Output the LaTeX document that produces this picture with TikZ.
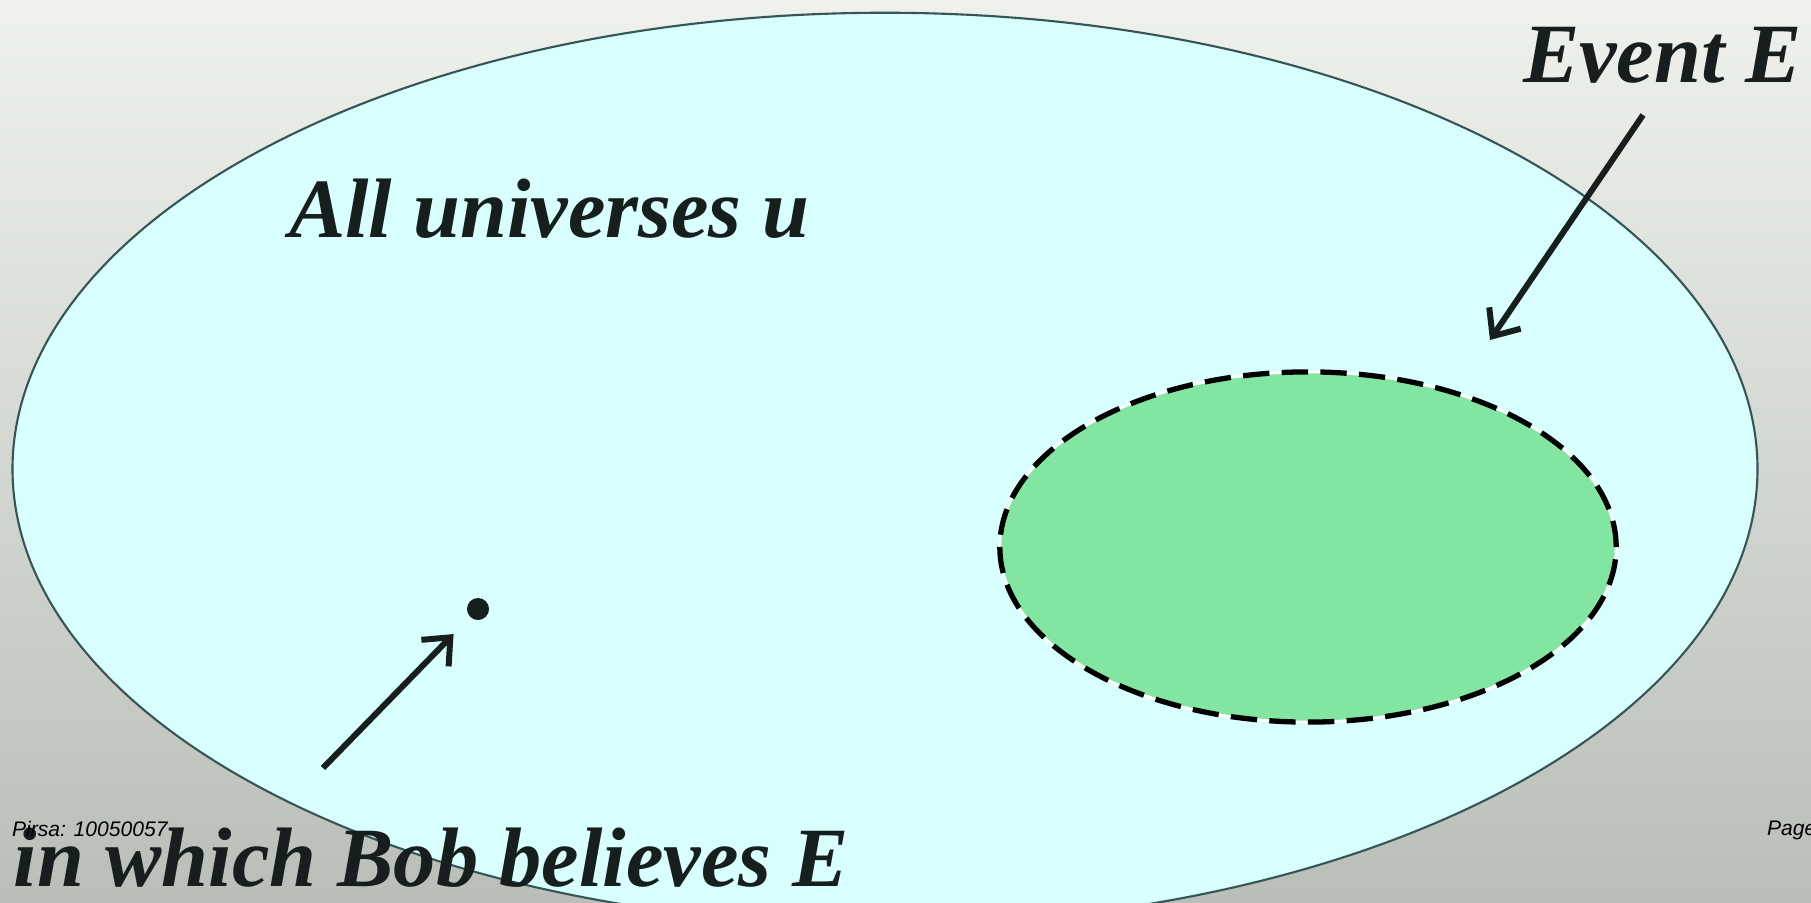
\documentclass[tikz,border=0pt]{standalone}
\usepackage{fontspec}
\setmainfont{Liberation Serif}
\newfontfamily\stampfont{Liberation Sans}
\definecolor{PaperTop}{RGB}{238, 241, 236}
\definecolor{PaperBottom}{RGB}{186, 190, 184}
\definecolor{Sky}{RGB}{216, 254, 254}
\definecolor{Mint}{RGB}{130, 230, 162}
\definecolor{Rim}{RGB}{55, 85, 85}
\definecolor{Ink}{RGB}{22, 30, 30}
\usetikzlibrary{arrows.meta, shapes.geometric}

\begin{document}
\begin{tikzpicture}[x=0.01cm, y=0.01cm,
    every node/.style={inner sep=0pt, outer sep=0pt},
    universe/.style={ellipse, draw=Rim, line width=0.6pt, fill=Sky,
                     minimum width=17.44cm, minimum height=9.12cm},
    eventset/.style={ellipse, fill=Mint, draw=white, line width=0.8pt,
                     minimum width=6.16cm, minimum height=3.5cm,
                     postaction={draw=black, line width=1.5pt, dash pattern=on 7.5pt off 3.5pt}},
    caption/.style={anchor=base west, text=Ink,
                    font=\fontsize{24}{28}\selectfont\bfseries\itshape},
    stamp/.style={anchor=base west, font=\stampfont\fontsize{6}{7}\selectfont\itshape},
    pointer/.style={-{Straight Barb[length=0.22cm, width=0.38cm]}, line width=1.7pt, draw=Ink}]

\useasboundingbox (0,0) rectangle (1811,902);
\shade[top color=PaperTop, bottom color=PaperBottom] (0,0) rectangle (1811,902);

\node[universe] (all) at (885,433) {};
\node[eventset] (event) at (1308,355) {};
\node[circle, fill=Ink, minimum size=0.22cm] (dot) at (478,293) {};

\node[caption] (alltext) at (289,665) {All universes u};
\node[caption] (eventtext) at (1523,819) {Event E};
\node[caption] (bobtext) at (14,16) {in which Bob believes E};

\node[stamp] (pirsa) at (12,66) {Pirsa: 10050057};
\node[stamp] (page) at (1767,67) {Page};

\coordinate (evtail) at (1643,787);
\coordinate (evtip) at (1490,562);
\coordinate (bobtail) at (323,134);

\draw[pointer] (evtail) -- (evtip);
\draw[pointer, shorten >=0.24cm] (bobtail) -- (dot);
\end{tikzpicture}
\end{document}
